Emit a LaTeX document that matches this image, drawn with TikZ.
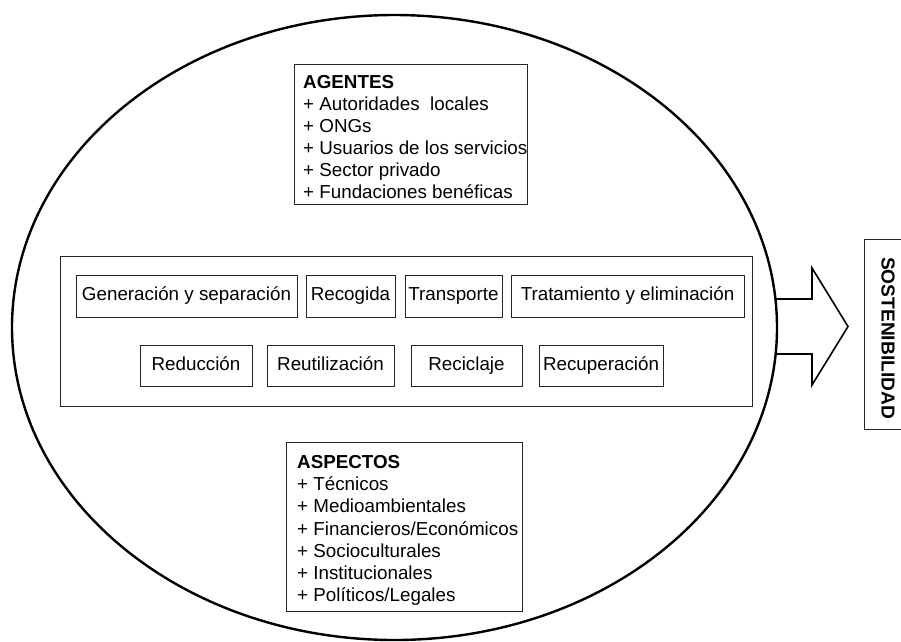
\documentclass[tikz,border=0pt]{standalone}
\usepackage{fontspec}
\setmainfont{Liberation Sans}
\begin{document}
\begin{tikzpicture}[x=1pt,y=-1pt,
  txt/.style={font=\fontsize{18.8}{22}\selectfont, inner sep=0pt},
  hdr/.style={font=\fontsize{18.8}{22}\selectfont\bfseries, inner sep=0pt},
  frame/.style={draw=black!85, line width=0.9pt, inner sep=0pt},
  stage/.style={draw=black!85, line width=0.9pt, inner sep=0pt,
    font=\fontsize{18.8}{22}\selectfont, text height=13.5pt, text depth=4pt,
    minimum height=42pt},
  action/.style={stage, minimum height=41pt}]
\clip (0,0) rectangle (901,641);
\fill[white] (0,0) rectangle (901,641);

% outer ellipse
\draw[line width=2.4pt] (394.5,327.5) ellipse [x radius=382.5, y radius=312.5];

% block arrow leaving the ellipse
\coordinate (shaftT) at (775.3,299);
\coordinate (shaftB) at (775.6,354);
\coordinate (tip) at (848,326.5);
\draw[line width=1.6pt, line join=miter]
  (shaftT) -- (812,299) -- (812,268) -- (tip) -- (812,385) -- (812,354) -- (shaftB);

% result box
\node[frame, minimum width=48pt, minimum height=190pt] (sost) at (888,334) {};
\node[font=\fontsize{18.8}{22}\selectfont\bfseries, inner sep=0pt, rotate=-90] (sostxt) at (888,338)
  {\scalebox{1.02}[1]{SOSTENIBILIDAD}};

% agents
\node[frame, minimum width=233pt, minimum height=140pt] (agbox) at (410.5,134) {};
\node[hdr, anchor=base west] (ag0) at (303,88.5) {AGENTES};
\foreach \t [count=\i] in {+ Autoridades\ \ locales, + ONGs, + Usuarios de los servicios,
    + Sector privado, + Fundaciones benéficas}
  \node[txt, anchor=base west] (ag\i) at (303,88.5+22*\i) {\t};

% management stages and actions
\node[frame, minimum width=692pt, minimum height=150pt] (mid) at (406,331) {};
\node[stage, minimum width=221pt] (gen) at (186.5,296) {Generación y separación};
\node[stage, minimum width=89pt]  (rec) at (350.5,296) {Recogida};
\node[stage, minimum width=97pt]  (tra) at (453.5,296) {Transporte};
\node[stage, minimum width=233pt] (tre) at (627.5,296) {Tratamiento y eliminación};
\node[action, minimum width=112pt] (red) at (196,365.5) {Reducción};
\node[action, minimum width=127pt] (reu) at (330.5,365.5) {Reutilización};
\node[action, minimum width=111pt] (rci) at (466.5,365.5) {Reciclaje};
\node[action, minimum width=124pt] (rcu) at (601,365.5) {Recuperación};

% aspects
\node[frame, minimum width=236pt, minimum height=169pt] (asbox) at (404,526.5) {};
\node[hdr, anchor=base west] (as0) at (297,468.5) {ASPECTOS};
\foreach \t [count=\i] in {+ Técnicos, + Medioambientales, + Financieros/Económicos,
    + Socioculturales, + Institucionales, + Políticos/Legales}
  \node[txt, anchor=base west] (as\i) at (297,468.5+22.2*\i) {\t};
\end{tikzpicture}
\end{document}
